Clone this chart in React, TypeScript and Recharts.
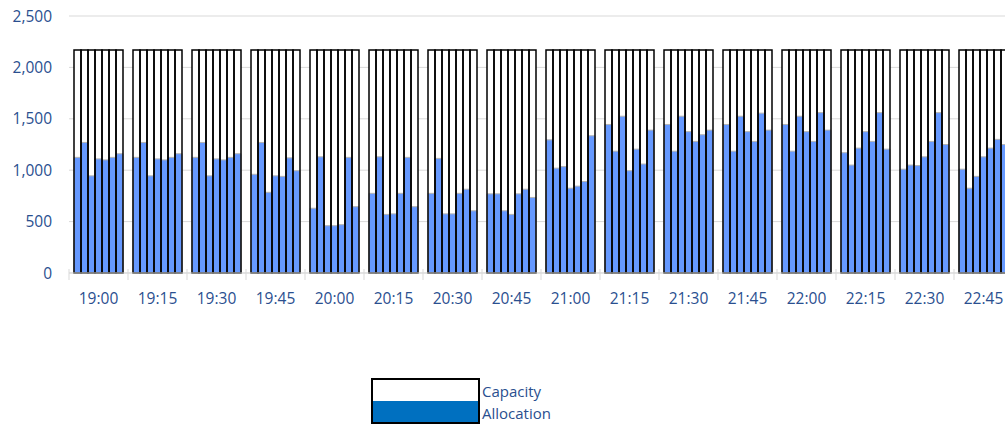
import { Bar, BarChart, CartesianGrid, XAxis, YAxis } from "recharts";

const times = [
  "19:00", "19:15", "19:30", "19:45", "20:00", "20:15", "20:30", "20:45",
  "21:00", "21:15", "21:30", "21:45", "22:00", "22:15", "22:30", "22:45",
];

// same capacity for every slot in a quarter hour
const capacity = [
  2170, 2170, 2170, 2170, 2170, 2170, 2170, 2170,
  2170, 2170, 2170, 2170, 2170, 2170, 2170, 2170,
];

// 7 slots per quarter hour, one row per time above
const allocation = [
  [1125, 1270, 945, 1110, 1100, 1125, 1160],
  [1125, 1270, 945, 1110, 1100, 1125, 1160],
  [1125, 1270, 945, 1110, 1100, 1125, 1160],
  [960, 1270, 785, 945, 940, 1120, 995],
  [630, 1130, 460, 460, 470, 1125, 645],
  [775, 1130, 570, 575, 775, 1125, 645],
  [775, 1115, 575, 575, 775, 815, 605],
  [770, 770, 605, 570, 770, 815, 735],
  [1295, 1020, 1035, 825, 845, 890, 1335],
  [1445, 1185, 1525, 995, 1205, 1060, 1390],
  [1445, 1185, 1525, 1375, 1280, 1345, 1390],
  [1445, 1185, 1525, 1375, 1280, 1555, 1390],
  [1445, 1185, 1525, 1375, 1280, 1560, 1390],
  [1170, 1050, 1215, 1375, 1280, 1560, 1205],
  [1010, 1050, 1045, 1130, 1280, 1560, 1250],
  [1010, 825, 940, 1130, 1215, 1300, 1250],
];

const yTicks = [0, 500, 1000, 1500, 2000, 2500];

const SLOTS = [0, 1, 2, 3, 4, 5, 6];
const TEXT = "#2A4F8F";
const FONT = "'Open Sans', sans-serif";

const data = times.map((time, i) => {
  const row: Record<string, string | number> = { time };
  SLOTS.forEach((s) => {
    row[`a${s}`] = allocation[i][s];
    row[`c${s}`] = capacity[i];
  });
  return row;
});

function TimeTick(props: any) {
  const { x, y, payload, width, visibleTicksCount } = props;
  const band = width && visibleTicksCount ? width / visibleTicksCount : 59;
  const edge = x - band / 2;
  return (
    <g>
      <line x1={edge} x2={edge} y1={y - 4} y2={y + 7} stroke="#D9D9D9" />
      <text
        x={x}
        y={y + 25}
        textAnchor="middle"
        dominantBaseline="central"
        fill={TEXT}
        fontSize={15.5}
        fontFamily={FONT}
      >
        {payload.value}
      </text>
    </g>
  );
}

export default function App() {
  return (
    <div
      style={{
        position: "fixed",
        left: 0,
        top: 0,
        width: 1005,
        height: 424,
        overflow: "hidden",
        background: "#fff",
        fontFamily: FONT,
      }}
    >
      <BarChart
        width={1020}
        height={424}
        data={data}
        margin={{ top: 16, right: 7, bottom: 111, left: 0 }}
        barGap={0}
        barCategoryGap={5}
      >
        <CartesianGrid vertical={false} stroke="#D9D9D9" />
        <XAxis
          dataKey="time"
          axisLine={{ stroke: "#D9D9D9" }}
          tickLine={false}
          tickSize={0}
          tickMargin={0}
          height={40}
          interval={0}
          tick={<TimeTick />}
        />
        <XAxis xAxisId="bg" dataKey="time" hide />
        <XAxis xAxisId="ol" dataKey="time" hide />
        <YAxis
          width={69}
          domain={[0, 2500]}
          ticks={yTicks}
          axisLine={false}
          tickLine={false}
          tickSize={0}
          tickMargin={17}
          tickFormatter={(v: number) => v.toLocaleString("en-US")}
          tick={{ fill: TEXT, fontSize: 15.5, fontFamily: FONT }}
        />
        {SLOTS.map((s) => (
          <Bar
            key={`bg${s}`}
            xAxisId="bg"
            dataKey={`c${s}`}
            fill="#ffffff"
            isAnimationActive={false}
          />
        ))}
        {SLOTS.map((s) => (
          <Bar
            key={`a${s}`}
            dataKey={`a${s}`}
            name="Allocation"
            fill="#6699FF"
            stroke="#B4B4B4"
            strokeWidth={1}
            isAnimationActive={false}
          />
        ))}
        {SLOTS.map((s) => (
          <Bar
            key={`ol${s}`}
            xAxisId="ol"
            dataKey={`c${s}`}
            name="Capacity"
            fill="none"
            stroke="#000000"
            strokeWidth={1.5}
            isAnimationActive={false}
          />
        ))}
      </BarChart>

      <div
        style={{
          position: "absolute",
          left: 371,
          top: 378,
          width: 105,
          height: 21,
          background: "#fff",
          border: "2px solid #000",
        }}
      />
      <div
        style={{
          position: "absolute",
          left: 371,
          top: 401,
          width: 105,
          height: 21,
          background: "#0070C0",
          border: "2px solid #000",
          borderTop: "none",
        }}
      />
      <div
        style={{
          position: "absolute",
          left: 482,
          top: 381,
          fontSize: 15,
          lineHeight: "20px",
          color: TEXT,
        }}
      >
        Capacity
      </div>
      <div
        style={{
          position: "absolute",
          left: 482,
          top: 403,
          fontSize: 15,
          lineHeight: "20px",
          color: TEXT,
        }}
      >
        Allocation
      </div>
    </div>
  );
}
